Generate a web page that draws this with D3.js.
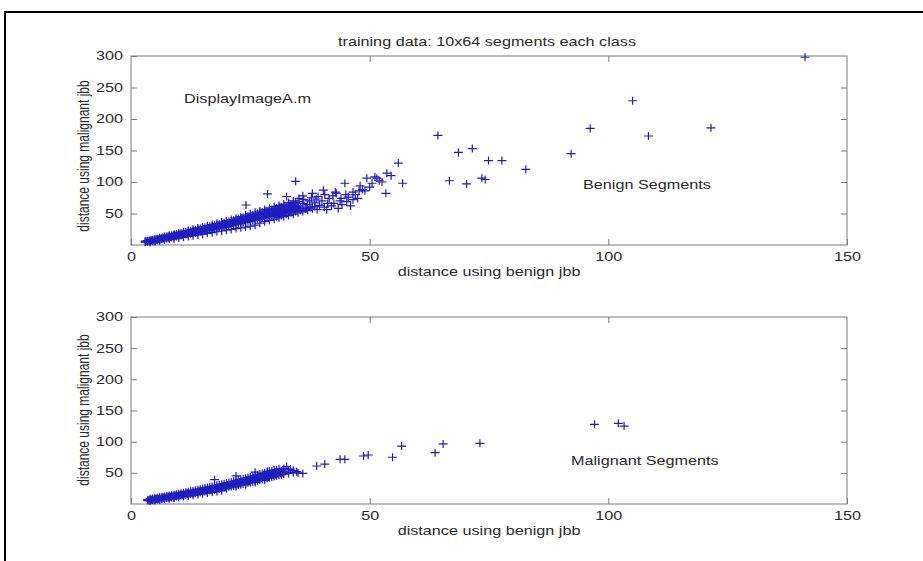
<!DOCTYPE html>
<html>
<head>
<meta charset="utf-8">
<script src="https://cdn.jsdelivr.net/npm/d3@7"></script>
<style>
  html, body { margin: 0; padding: 0; background: #fff; }
  svg { display: block; }
  text { font-family: "Liberation Sans", Arial, sans-serif; fill: #2a2a2a; }
</style>
</head>
<body>
<svg id="fig" width="923" height="561"></svg>
<script>
// ---- data -------------------------------------------------------------
const xTicks = [0, 50, 100, 150];
const yTicks = [50, 100, 150, 200, 250, 300];
const titleText = "training data: 10x64 segments each class";
const xLabelText = "distance using benign jbb";
const yLabelText = "distance using malignant jbb";
const scriptNote = "DisplayImageA.m";
const benignNote = "Benign Segments";
const malignantNote = "Malignant Segments";

// [distance using benign jbb, distance using malignant jbb] for benign segments
const benignPoints = [
  [3,4.5],[3,5.5],[3,6],[3.5,5],[3.5,6.8],[4,5.2],[4,6.5],[4,7.8],[4.5,6],[4.5,7.2],[4.5,8.5],
  [5,6.5],[5,8],[5,9.4],[5,7.1],[5.5,7.5],[5.5,9],[5.5,10.2],[6,8],[6,9.5],[6,10.8],[6,11.5],
  [6.5,9],[6.5,10.5],[6.5,12],[7,9.8],[7,11],[7,12.5],[7,13.6],[7.5,10.5],[7.5,12.2],[7.5,13.8],
  [8,11],[8,12.8],[8,14.2],[8,15.5],[8.5,12],[8.5,13.5],[8.5,15.3],[9,12.5],[9,14.5],[9,16],[9,17.2],
  [9.5,13.4],[9.5,15.1],[9.5,17.5],[10,14],[10,16],[10,17.8],[10,19.2],[10.5,15],[10.5,17],[10.5,19],
  [11,15.5],[11,17.5],[11,19.6],[11,21],[11.5,16.5],[11.5,18.4],[11.5,20.8],[12,17],[12,19.5],[12,21.4],[12,23],
  [12.5,18],[12.5,20.4],[12.5,22.6],[13,18.5],[13,21],[13,23.2],[13,25],[13.5,19.5],[13.5,22],[13.5,24.4],
  [14,20],[14,22.5],[14,25],[14,27],[14.5,21.5],[14.5,23.6],[14.5,26],[15,21.5],[15,24],[15,26.5],[15,28.6],
  [15.5,23],[15.5,25.4],[15.5,27.8],[16,23.5],[16,26],[16,28.5],[16,30.5],[16.5,24.2],[16.5,27],[16.5,29.6],
  [17,25],[17,27.5],[17,30],[17,32.4],[17.5,26],[17.5,28.8],[17.5,31.3],[18,26.5],[18,29.5],[18,32],[18,34.4],
  [18.5,27.5],[18.5,30.4],[18.5,33],[19,28],[19,31],[19,34],[19,36.5],[19.5,29],[19.5,32.2],[19.5,35.2],
  [20,29.5],[20,33],[20,36],[20,38.5],[20.5,31],[20.5,34],[20.5,37.4],[21,31.5],[21,35],[21,38],[21,40.5],
  [21.5,32.2],[21.5,36],[21.5,39.4],[22,33],[22,37],[22,40],[22,42.6],[22.5,34],[22.5,38.3],[22.5,41.5],
  [23,34.5],[23,38.5],[23,42],[23,45],[23.5,36],[23.5,40],[23.5,43.5],[24,36],[24,40.5],[24,44],[24,47.5],
  [24.5,37.5],[24.5,41.6],[24.5,45.5],[25,38],[25,42],[25,46],[25,49.5],[25.5,39.4],[25.5,43.8],[25.5,47.6],
  [26,39.5],[26,44],[26,48],[26,52],[26.5,41],[26.5,45.5],[26.5,50],[27,41.5],[27,46],[27,50.5],[27,54],
  [27.5,42.5],[27.5,47.5],[27.5,52],[28,43],[28,48],[28,52.5],[28,56.5],[28.5,44.5],[28.5,49.5],[28.5,54.2],
  [29,45],[29,50],[29,55],[29,58.5],[29.5,46],[29.5,51.5],[29.5,56.5],[30,47],[30,52],[30,57],[30,61],
  [30.5,48.5],[30.5,53.5],[30.5,58.5],[31,48],[31,54],[31,59],[31,63],[31.5,50],[31.5,55.5],[31.5,60.5],
  [32,51],[32,56],[32,61],[32,65],[32.5,52],[32.5,57.5],[32.5,62.5],[33,53],[33,58],[33,63],[33,67.5],
  [33.5,54],[33.5,60],[33.5,64.5],[34,55],[34,61],[34,66],[34,70],[34.5,57],[34.5,62],[34.5,68],
  [35,58],[35,63],[35,69],
  [4,4.5],[5,5.5],[6,6.8],[7,7.8],[8,9],[9,10],[10,11.2],[11,12.5],[12,13.6],[13,14.8],[14,16],[15,17.2],
  [16,18.5],[17,19.6],[18,21],[19,22.2],[20,23.5],[21,24.6],[22,26],[23,27.2],[24,28.5],[25,29.8],[26,31.5],
  [27,34.5],[28,37],[29,39],[30,41],[31,43],[32,45],[33,47],[34,49],[35,51],[36,53],[37,55],[38,57],
  [3.3,5.8],[3.8,6.2],[4.3,7],[4.8,7.6],[5.3,8.4],[5.8,9.2],[6.3,10],[6.8,10.8],[7.3,11.5],[7.8,12.4],
  [8.3,13.1],[8.8,14],[9.3,14.6],[9.8,15.5],[10.3,16.3],[10.8,17.2],[11.3,18],[11.8,18.8],[12.3,19.6],
  [12.8,20.5],[13.3,21.3],[13.8,22],[14.3,23],[14.8,23.8],[15.3,24.6],[15.8,25.5],[16.3,26.2],[16.8,27.2],
  [17.3,28],[17.8,28.8],[18.3,29.8],[18.8,30.6],[19.3,31.5],[19.8,32.3],[20.3,33.2],[20.8,34],[21.3,35],
  [21.8,35.8],[22.3,36.8],[22.8,37.6],[23.3,38.5],[23.8,39.4],[24.3,40.4],[24.8,41.2],[25.3,42.2],[25.8,43],
  [26.3,44],[26.8,44.8],[27.3,45.8],[27.8,46.6],[28.3,47.6],[28.8,48.4],[29.3,49.5],[29.8,50.2],[30.3,51.3],
  [30.8,52],[31.3,53.2],[31.8,54],[32.3,55],[32.8,56],[33.3,57],[33.8,58],[34.3,59],[34.8,60],
  [30.5,45],[31.5,47],[32.5,49],[33.5,51],[34.5,53],[35.5,55],[36.5,57],[37.5,59],[38.5,61],[39,56],
  [40.5,60],[42.5,66],[44,74],[45,80],[46.5,72],[47.8,86],[36,78],[38,82],[35.2,74],
  [35.5,60],[36,66],[36.2,72],[36.8,58],[37,64],[37.4,70],[37.8,75],[38,61],[38.5,67],[38.8,73],[39.2,77],
  [39.5,63],[40,70],[40.3,87],[40.6,80],[41,56],[41.2,66],[41.5,74],[42,62],[42.3,78],[42.8,84],[43,82],
  [43.4,58],[43.8,70],[44.2,64],[44.8,98],[45.2,69],[45.5,76],[46,62],[46.5,84],[47,80],[47.5,74],[48,94],
  [48.5,88],[49.4,106],[49,86],[50,92],[50.5,98],[51.1,108],[51.5,106],[52,102],[52.6,100],[53.4,82],
  [53.6,114],[54.5,110],[56,130],[56.9,98],
  [24.1,63.5],[28.6,81],[32.6,77],[34.5,101],
  [64.3,174],[66.7,102],[68.6,147],[70.3,97],[71.5,153],[73.5,106],[74.2,104],[74.9,134],[77.7,134],
  [82.7,120],[92.2,145],[96.2,185],[105.1,229],[108.4,173],[121.5,186],[141.2,298]
];

// [distance using benign jbb, distance using malignant jbb] for malignant segments
const malignantPoints = [
  [3.5,5.5],[3.5,7],[4,5.5],[4,7],[4,8.5],[4.5,6],[4.5,7.8],[4.5,9],[5,6.5],[5,8],[5,9.6],[5,7.4],
  [5.5,7],[5.5,8.8],[5.5,10.2],[6,7.5],[6,9],[6,10.8],[6,8.4],[6.5,8.2],[6.5,10],[6.5,11.5],
  [7,8.5],[7,10.5],[7,12],[7,9.6],[7.5,9.5],[7.5,11.2],[7.5,12.8],[8,10],[8,11.8],[8,13.5],[8,10.9],
  [8.5,10.5],[8.5,12.6],[8.5,14.2],[9,11],[9,13],[9,15],[9,12.2],[9.5,12],[9.5,14],[9.5,15.8],
  [10,12.5],[10,14.5],[10,16.5],[10,13.5],[10.5,13.2],[10.5,15.3],[10.5,17.2],[11,14],[11,16],[11,18],[11,15],
  [11.5,14.5],[11.5,16.8],[11.5,18.8],[12,15],[12,17.5],[12,19.6],[12,16.4],[12.5,16],[12.5,18.2],[12.5,20.4],
  [13,16.5],[13,19],[13,21.2],[13,17.8],[13.5,17.4],[13.5,19.8],[13.5,22],[14,18],[14,20.5],[14,23],[14,19.2],
  [14.5,18.6],[14.5,21.3],[14.5,23.8],[15,19.5],[15,22],[15,24.8],[15,20.6],[15.5,20.2],[15.5,22.8],[15.5,25.5],
  [16,21],[16,23.6],[16,26.4],[16,22.2],[16.5,21.6],[16.5,24.4],[16.5,27.3],[17,22.4],[17,25.2],[17,28.2],[17,23.5],
  [17.5,23],[17.5,26],[17.5,29],[18,23.8],[18,26.8],[18,30],[18,25.3],[18.5,24.6],[18.5,27.6],[18.5,31],
  [19,25],[19,28.5],[19,31.6],[19,27],[19.5,26],[19.5,29.4],[19.5,32.6],[20,26.5],[20,30],[20,33.5],[20,28.2],
  [20.5,27.6],[20.5,31],[20.5,34.5],[21,28],[21,32],[21,35.4],[21,30],[21.5,29],[21.5,32.8],[21.5,36.4],
  [22,29.5],[22,33.5],[22,37.2],[22,31.6],[22.5,30.5],[22.5,34.4],[22.5,38.4],[23,31],[23,35.4],[23,39.4],[23,33],
  [23.5,32.2],[23.5,36.2],[23.5,40.4],[24,33],[24,37],[24,41.5],[24,35],[24.5,34],[24.5,38],[24.5,42.4],
  [25,34.5],[25,39],[25,43.4],[25,36.6],[25.5,35.6],[25.5,40],[25.5,44.6],[26,36.5],[26,41],[26,45.5],[26,38.5],
  [26.5,37.4],[26.5,42],[26.5,46.6],[27,38.5],[27,43],[27,48],[27,40.4],[27.5,39.4],[27.5,44],[27.5,49],
  [28,40],[28,45],[28,50],[28,42.5],[28.5,41.2],[28.5,46],[28.5,51],[29,42],[29,47],[29,52.5],[29,44.3],
  [29.5,43],[29.5,48],[29.5,53],[30,44],[30,49],[30,54.5],[30.5,45.5],[30.5,50.5],[30.5,55],
  [31,46],[31,51],[31,56.5],[31.5,47],[31.5,53],[32,48],[32,52],[32,57],[33,49],[33,55],[33,51],[34,50],[34,54],
  [3.8,6.2],[4.3,6.8],[4.8,7.4],[5.3,8],[5.8,8.6],[6.3,9.3],[6.8,9.9],[7.3,10.5],[7.8,11.2],[8.3,11.8],
  [8.8,12.4],[9.3,13.1],[9.8,13.7],[10.3,14.4],[10.8,15],[11.3,15.7],[11.8,16.4],[12.3,17],[12.8,17.7],
  [13.3,18.5],[13.8,19.2],[14.3,19.9],[14.8,20.7],[15.3,21.4],[15.8,22.1],[16.3,23],[16.8,23.8],[17.3,24.5],
  [17.8,25.3],[18.3,26.1],[18.8,26.9],[19.3,27.8],[19.8,28.6],[20.3,29.5],[20.8,30.3],[21.3,31.1],[21.8,32],
  [22.3,32.9],[22.8,33.8],[23.3,34.6],[23.8,35.5],[24.3,36.4],[24.8,37.3],[25.3,38.2],[25.8,39.1],[26.3,40],
  [26.8,41],[27.3,41.8],[27.8,42.8],[28.3,43.7],[28.8,44.6],[29.3,45.6],[29.8,46.5],[30.3,47.4],[30.8,48.3],
  [31.3,49.2],[31.8,50],
  [4,4.8],[5,5.6],[6,6.6],[7,7.6],[8,8.6],[9,9.8],[10,10.8],[11,12],[12,13],[13,14.2],[14,15.3],[15,16.5],
  [16,17.6],[17,18.8],[18,20],[19,21.4],[20,24.5],[22,27.5],[24,31],[26,34.5],[28,38],
  [17.5,39],[22,45],[26,51],[28.6,52.5],[32.6,60],[34.7,51.8],[33.4,56],[35,50],[36,49],
  [38.9,61],[40.6,64],[43.8,71.7],[44.8,71.7],[48.7,77],[49.7,78.6],[54.8,75],[56.7,93],
  [63.7,82.3],[65.4,96.3],[73.1,97.4],[97.1,127.8],[102.1,129.4],[103.3,125]
];

// ---- layout -----------------------------------------------------------
const SX = 1.35;          // horizontal glyph stretch of the figure text
const FS = 12;            // font size (px)
const markerColor = "#1e1ec0";
const axisColor = "#7a7a7a";

const panels = [
  { points: benignPoints,    note: benignNote,    noteX: 583, noteY: 189,
    left: 131, right: 847, top: 56,  bottom: 245, yLabelY: 156 },
  { points: malignantPoints, note: malignantNote, noteX: 571, noteY: 465,
    left: 131, right: 847, top: 317, bottom: 504, yLabelY: 410 }
];

const svg = d3.select("#fig");

// figure frame
svg.append("line").attr("x1", 5).attr("x2", 923).attr("y1", 12).attr("y2", 12)
  .attr("stroke", "#000").attr("stroke-width", 2);
svg.append("line").attr("x1", 5).attr("x2", 5).attr("y1", 11).attr("y2", 561)
  .attr("stroke", "#000").attr("stroke-width", 2);

function label(sel, x, y, str, anchor, rotate) {
  return sel.append("text")
    .attr("transform", `translate(${x},${y}) scale(${SX},1)` + (rotate ? " rotate(-90)" : ""))
    .attr("font-size", FS)
    .attr("text-anchor", anchor || "start")
    .text(str);
}

panels.forEach((p, i) => {
  const x = d3.scaleLinear().domain([0, 150]).range([p.left, p.right]);
  const y = d3.scaleLinear().domain([0, 300]).range([p.bottom, p.top]);
  const g = svg.append("g");

  // inward ticks on all four sides
  const tick = 6;
  const axes = [
    { ax: d3.axisBottom(x).tickValues(xTicks), tr: `translate(0,${p.bottom})`, lab: true, left: false },
    { ax: d3.axisTop(x).tickValues(xTicks.slice(1, -1)), tr: `translate(0,${p.top})`, lab: false },
    { ax: d3.axisLeft(y).tickValues(yTicks), tr: `translate(${p.left},0)`, lab: true, left: true },
    { ax: d3.axisRight(y).tickValues(yTicks.slice(0, -1)), tr: `translate(${p.right},0)`, lab: false }
  ];
  axes.forEach(a => {
    const ag = g.append("g").attr("transform", a.tr)
      .call(a.ax.tickSizeInner(-tick).tickSizeOuter(0).tickPadding(7));
    ag.select(".domain").remove();
    ag.selectAll("line").attr("stroke", axisColor).attr("stroke-width", 1);
    if (!a.lab) { ag.selectAll("text").remove(); return; }
    const t = ag.selectAll("text")
      .attr("font-family", "Liberation Sans, Arial, sans-serif")
      .attr("font-size", FS).attr("fill", "#2a2a2a")
      .attr("transform", `scale(${SX},1)`);
    if (a.left) t.attr("x", -6);
  });

  // axes box
  g.append("rect")
    .attr("x", p.left).attr("y", p.top)
    .attr("width", p.right - p.left).attr("height", p.bottom - p.top)
    .attr("fill", "none").attr("stroke", axisColor).attr("stroke-width", 1);

  // "+" markers
  g.append("g").selectAll("path").data(p.points).join("path")
    .attr("transform", d => `translate(${x(d[0])},${y(d[1])})`)
    .attr("d", "M-4.5,0H4.5M0,-4V4")
    .attr("stroke", markerColor).attr("stroke-width", 1.2).attr("fill", "none");

  // axis labels and annotations
  label(g, (p.left + p.right) / 2, p.bottom + 31, xLabelText, "middle");
  label(g, 89, p.yLabelY, yLabelText, "middle", true);
  label(g, p.noteX, p.noteY, p.note);
  if (i === 0) {
    label(g, 184, 103, scriptNote);
    label(g, 487, 46, titleText, "middle");
  }
});
</script>
</body>
</html>
